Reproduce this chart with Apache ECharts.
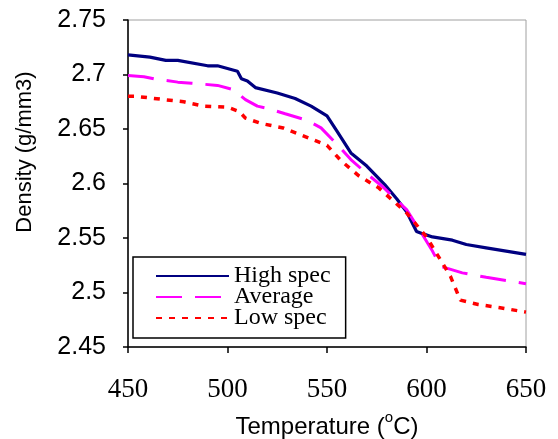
<!DOCTYPE html>
<html>
<head>
<meta charset="utf-8">
<script src="https://cdn.jsdelivr.net/npm/echarts@6/dist/echarts.min.js"></script>
<style>
  html, body { margin: 0; padding: 0; background: #fff; }
  #chart { width: 558px; height: 439px; }
</style>
</head>
<body>
<div id="chart"></div>
<script>
var highT = [450, 461, 469, 475, 490, 495, 505, 507, 510, 514, 525, 534, 542, 550, 555, 562, 570, 579, 585, 590, 595, 598, 603, 613, 620, 630, 650];
var highD = [2.718, 2.716, 2.713, 2.713, 2.708, 2.708, 2.703, 2.696, 2.694, 2.688, 2.683, 2.678, 2.671, 2.662, 2.648, 2.628, 2.616, 2.599, 2.586, 2.574, 2.556, 2.554, 2.551, 2.548, 2.544, 2.541, 2.535];

var avgT = [450, 458, 463, 475, 482, 495, 503, 509, 515, 520, 529, 540, 547, 556, 562, 570, 578, 590, 598, 603, 607, 618, 630, 650];
var avgD = [2.699, 2.698, 2.696, 2.693, 2.692, 2.690, 2.686, 2.677, 2.671, 2.669, 2.664, 2.658, 2.651, 2.634, 2.622, 2.609, 2.597, 2.576, 2.553, 2.538, 2.524, 2.518, 2.514, 2.508];

var lowT = [450, 454, 468, 478, 488, 500, 506, 509, 517, 528, 539, 550, 557, 566, 576, 590, 600, 612, 617, 626, 637, 650];
var lowD = [2.680, 2.680, 2.677, 2.675, 2.671, 2.670, 2.666, 2.660, 2.655, 2.651, 2.643, 2.635, 2.621, 2.607, 2.596, 2.573, 2.551, 2.515, 2.493, 2.489, 2.486, 2.482];

var seriesNames = ['High spec', 'Average', 'Low spec'];

function pairs(xs, ys) {
  return xs.map(function (x, i) { return [x, ys[i]]; });
}

var myChart = echarts.init(document.getElementById('chart'));

var option = {
  animation: false,
  backgroundColor: '#fff',
  grid: {
    left: 128,
    top: 20,
    right: 32,
    bottom: 92,
    outerBoundsMode: 'none',
    show: true,
    borderColor: '#a0a0a0',
    borderWidth: 1
  },
  legend: {
    orient: 'vertical',
    left: 133,
    top: 257,
    data: seriesNames,
    itemWidth: 73,
    itemHeight: 14,
    itemGap: -3,
    padding: [7, 15, 8, 22],
    borderColor: '#000',
    borderWidth: 1.5,
    borderRadius: 0,
    backgroundColor: '#fff',
    itemStyle: { opacity: 0 },
    textStyle: {
      fontFamily: 'Liberation Serif',
      fontSize: 24,
      color: '#000'
    }
  },
  xAxis: {
    type: 'value',
    min: 450,
    max: 650,
    interval: 50,
    name: 'Temperature ({sup|o}C)',
    nameLocation: 'middle',
    nameGap: 63,
    nameTextStyle: {
      fontFamily: 'Liberation Sans',
      fontSize: 24,
      color: '#000',
      rich: {
        sup: { fontFamily: 'Liberation Sans', fontSize: 15, color: '#000', padding: [0, 0, 20, 0] }
      }
    },
    axisLine: { lineStyle: { color: '#000', width: 1.5 } },
    axisTick: { show: true, length: 6, lineStyle: { color: '#000', width: 1.5 } },
    axisLabel: {
      margin: 29,
      fontFamily: 'Liberation Serif',
      fontSize: 27,
      color: '#000'
    },
    splitLine: { show: false }
  },
  yAxis: {
    type: 'value',
    min: 2.45,
    max: 2.75,
    interval: 0.05,
    axisLine: { show: true, lineStyle: { color: '#000', width: 1.5 } },
    axisTick: { show: true, length: 5, lineStyle: { color: '#000', width: 1.5 } },
    axisLabel: {
      margin: 22,
      fontFamily: 'Liberation Sans',
      fontSize: 25,
      color: '#000'
    },
    splitLine: { show: false }
  },
  graphic: [
    {
      type: 'text',
      x: 25,
      y: 152,
      rotation: Math.PI / 2,
      style: {
        text: 'Density (g/mm3)',
        font: '22px "Liberation Sans"',
        fill: '#000',
        align: 'center',
        verticalAlign: 'middle'
      }
    }
  ],
  series: [
    {
      name: seriesNames[0],
      type: 'line',
      symbol: 'none',
      data: pairs(highT, highD),
      lineStyle: { color: '#000080', width: 3.2 },
      itemStyle: { color: '#000080' }
    },
    {
      name: seriesNames[1],
      type: 'line',
      symbol: 'none',
      data: pairs(avgT, avgD),
      lineStyle: { color: '#ff00ff', width: 3, type: [26, 13] },
      itemStyle: { color: '#ff00ff' }
    },
    {
      name: seriesNames[2],
      type: 'line',
      symbol: 'none',
      data: pairs(lowT, lowD),
      lineStyle: { color: '#ff0000', width: 3.5, type: [6, 7] },
      itemStyle: { color: '#ff0000' }
    }
  ]
};

myChart.setOption(option);
</script>
</body>
</html>
